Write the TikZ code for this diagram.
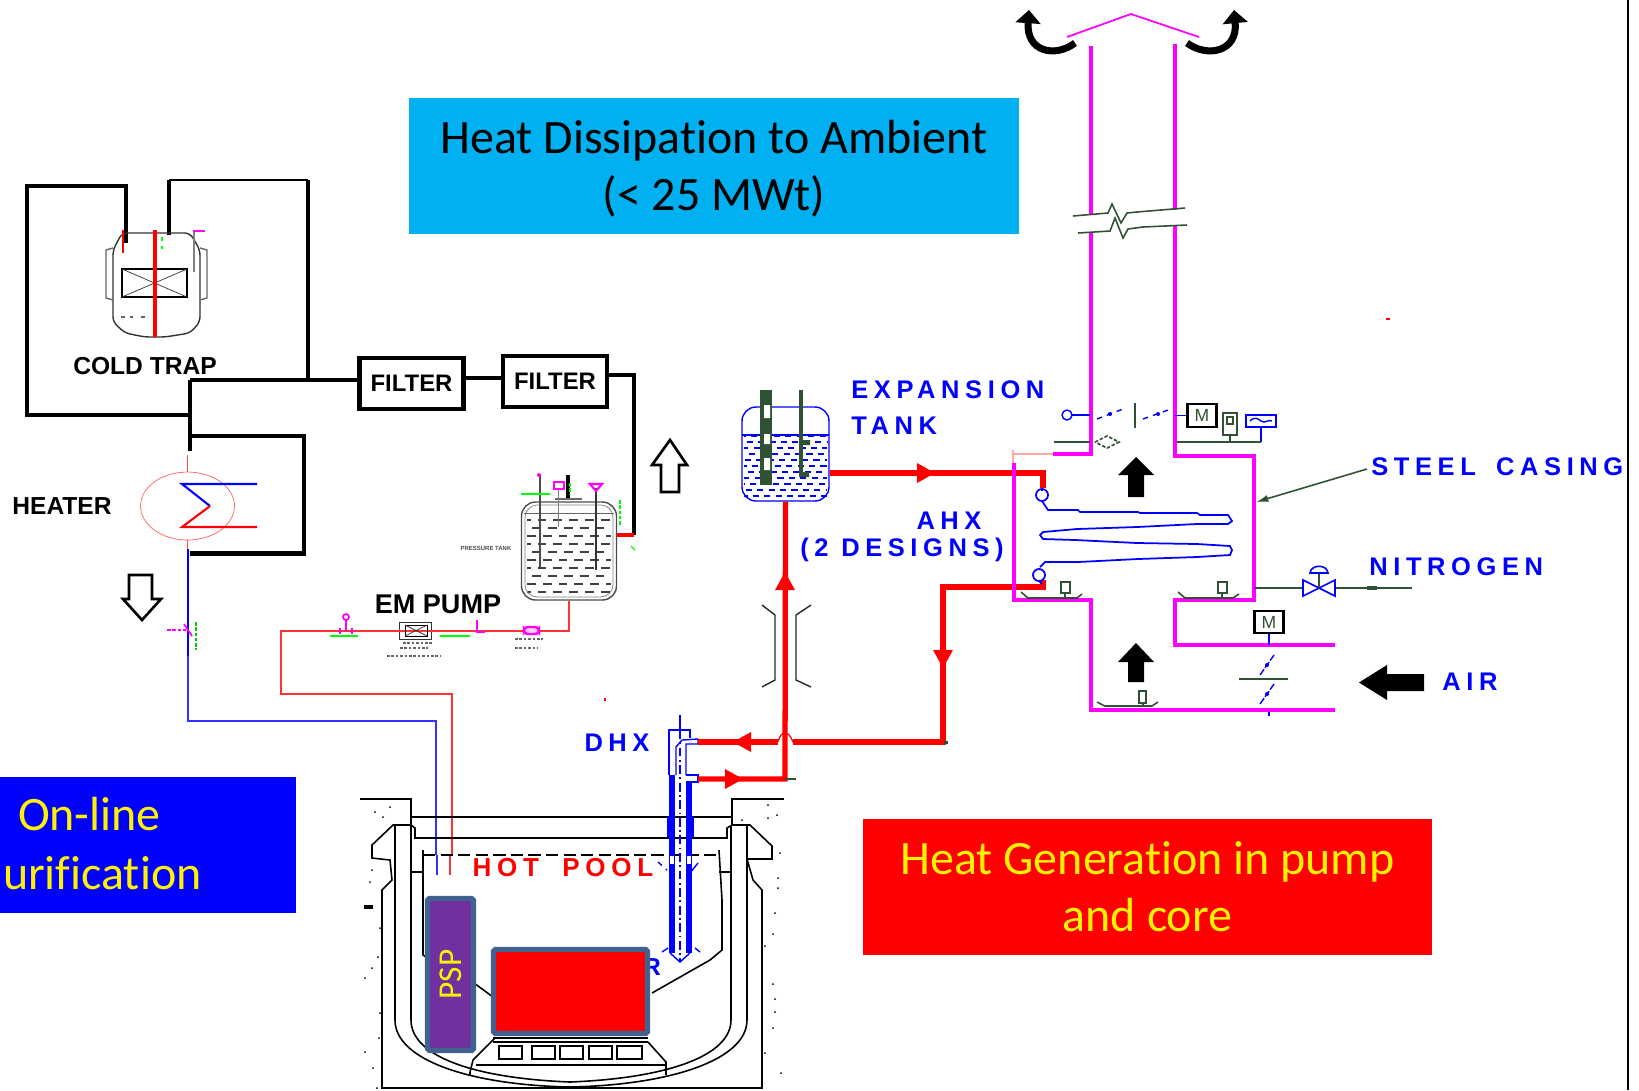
\documentclass[tikz,border=0pt]{standalone}
\usepackage{fontspec}
\setmainfont{Carlito}[Ligatures=NoCommon]
\newfontfamily\labelfont{Liberation Sans}
\newfontfamily\spacedfont[LetterSpace=22]{Liberation Sans}
\usetikzlibrary{shapes,arrows.meta,positioning}
\definecolor{steelblue}{HTML}{41618F}
\definecolor{pspviolet}{HTML}{7030A0}
\definecolor{skyblue}{HTML}{00B0F0}
\definecolor{darkgreen}{HTML}{2F5233}
\definecolor{pinkline}{HTML}{FF00FF}
\definecolor{palered}{HTML}{FF6060}
\newcommand{\redtip}[3]{\fill[red,shift={(#1,#2)},rotate=#3] (0,0) -- (-18,-10) -- (-18,10) -- cycle;}

\begin{document}
\begin{tikzpicture}
	[
		x=0.02cm, y=-0.02cm,
		bigbox/.style={rectangle, minimum height=2.72cm, inner sep=0pt, align=center, font=\fontsize{27.3}{32.3}\selectfont},
		filternode/.style={rectangle, draw=black, fill=white, minimum width=2.08cm, minimum height=1.02cm, inner sep=0pt, font=\labelfont\bfseries\fontsize{13.6}{15}\selectfont},
		blacklabel/.style={text=black, inner sep=0pt, font=\labelfont\bfseries\fontsize{14}{15}\selectfont},
		bluelabel/.style={text=blue, inner sep=0pt, align=center, font=\spacedfont\bfseries\fontsize{14.5}{16}\selectfont},
		mbox/.style={rectangle, draw=black, very thick, fill=white, text=darkgreen, inner sep=0pt, minimum width=0.58cm, minimum height=0.45cm, font=\labelfont\fontsize{10}{10}\selectfont},
		tanknode/.style={rectangle, draw=blue, thick, rounded corners=8pt},
		blackpipe/.style={draw=black, line width=2.3pt},
		redpipe/.style={draw=red, line width=3pt},
		casing/.style={draw=pinkline, line width=2pt},
		thinline/.style={draw=darkgreen, line width=0.9pt},
		bluethin/.style={draw=blue, line width=0.8pt},
		poolline/.style={draw=black, line width=0.9pt},
		curlarrow/.style={draw=black, line width=4pt, -{Triangle[length=7.5pt,width=14pt]}},
	]
	\useasboundingbox (0,0) rectangle (1639,1090);

	% text boxes
	\node[bigbox, fill=skyblue, minimum width=12.2cm] (dissipation) at (714,166) {\rule{0pt}{22.4pt}Heat Dissipation to Ambient\\(< 25 MWt)};
	\node[bigbox, fill=blue, text=yellow, text width=5.92cm, align=left] (purification) at (148,845) {\hspace*{0.36cm}\raisebox{1pt}{On-line}\\\hspace*{0.06cm}urification\rule[-1.8pt]{0pt}{1pt}};
	\node[bigbox, fill=red, text=yellow, minimum width=11.38cm] (generation) at (1147.5,887) {Heat Generation in pump\\and core};
	\draw[black, line width=1.6pt] (1628,0) -- (1628,1090);

	% purification loop
	\node[filternode, line width=2.8pt] (filterone) at (411.5,383.5) {FILTER};
	\node[filternode, line width=1.9pt] (filtertwo) at (555,381.5) {FILTER};
	\node[ellipse, draw=palered, thin, minimum width=1.88cm, minimum height=1.36cm, inner sep=0pt] (heater) at (187.5,506) {};
	\node[tanknode, draw=black!70, minimum width=1.9cm, minimum height=1.96cm] (storetank) at (569,551) {};
	\node[rectangle, draw=black!80, thick, minimum width=0.64cm, minimum height=0.34cm, inner sep=0pt] (empump) at (415.5,631) {};
	\coordinate (junction) at (190,380);
	\coordinate (filterlink) at (480,378);
	\coordinate (trapin) at (126,243);
	\coordinate (trapout) at (169,235);
	\coordinate (tanktap) at (634,535);
	\coordinate (pumpcorner) at (281,631);
	\coordinate (dropcorner) at (452,694);
	\coordinate (bluecorner) at (188,721);
	\coordinate (blueend) at (436,855);
	\coordinate (redend) at (452,855);

	\draw[blackpipe] (trapin) -- (126,186) -- (27,186) -- (27,415) -- (190,415);
	\draw[blackpipe] (trapout) -- (169,180);
	\draw[blackpipe, line width=1.6pt] (169,180) -- (308,180);
	\draw[blackpipe] (308,180) -- (308,378);
	\draw[blackpipe, line width=1.8pt] (junction) -- (filterone.west |- junction);
	\draw[blackpipe] (junction) -- (190,451);
	\draw[blackpipe] (filterone.east |- filterlink) -- (filtertwo.west |- filterlink);
	\draw[blackpipe, line width=1.9pt] (filtertwo.east |- 0,375) -- (634,375) -- (tanktap);
	\draw[red, line width=2pt] (tanktap) -- (storetank.east |- tanktap);
	\draw[blackpipe] (190,436) -- (304,436) -- (304,553.5) -- (190,553.5);
	\draw[red!70, line width=1pt] (heater.north |- 0,455) -- (heater.north);
	\draw[red!70, line width=1pt] (heater.south) -- (heater.south |- 0,549);
	\draw[blue, line width=1.4pt] (188,549) -- (188,656);
	\draw[blue!80, line width=1pt] (188,656) -- (bluecorner) -- (436,721) -- (blueend);
	\draw[blue!80, line width=1pt] (437,855) -- (437,875);
	\draw[red!80, line width=1pt] (storetank.south) |- (pumpcorner) -- (281,694) -- (dropcorner) -- (redend);
	\draw[red!80, line width=1pt] (450,855) -- (450,875);
	\draw[blue, line width=1.2pt] (257,484) -- (182,484) -- (210,506);
	\draw[red, line width=1.2pt] (210,506) -- (182,527) -- (257,527);

	% cold trap
	\draw[black!80, thick, rounded corners=3pt] (113,250) -- (122,233) -- (190,233) -- (200,250) -- (200,322) -- (190,333) -- (165,337) -- (145,337) -- (125,333) -- (113,322) -- cycle;
	\draw[black!60, thick] (113,248) -- (106,250) -- (106,298) -- (113,300);
	\draw[black!60, thick] (200,248) -- (207,250) -- (207,298) -- (200,300);
	\draw[black, thick] (122,269) rectangle (187,297);
	\draw[black!80] (122,269) -- (187,297) (122,297) -- (187,269);
	\draw[red, line width=1.8pt] (155,230) -- (155,337);
	\draw[red, line width=1.4pt] (123,230) -- (123,253);
	\draw[pinkline, line width=1pt] (193,231) -- (205,231);
	\draw[black!50, line width=0.8pt] (194,232) -- (194,272);
	\draw[green, line width=0.8pt, dash pattern=on 2pt off 3pt] (162,237) -- (162,250);
	\draw[black!60, line width=1pt, dash pattern=on 2pt off 3pt] (121,317) -- (133,317) (141,317) -- (148,317);
	\node[blacklabel] (coldtraplabel) at (145,366) {COLD TRAP};
	\node[blacklabel] (heaterlabel) at (62,506) {HEATER};
	\node[blacklabel, font=\labelfont\bfseries\fontsize{15.4}{16}\selectfont] (empumplabel) at (438,604) {EM PUMP};
	\draw[black, line width=1.5pt] (661,492) -- (661,465) -- (652,465) -- (670,440) -- (687,465) -- (679,465) -- (679,492) -- cycle;
	\draw[black, line width=1.5pt] (129,575) -- (129,599) -- (123,599) -- (142,620) -- (161,599) -- (152,599) -- (152,575) -- cycle;

	% storage tank
	\foreach \y [count=\i] in {520,528,...,598}
		\draw[black!75, line width=0.9pt, dash pattern=on 5pt off 4pt, dash phase=3*\i pt] (527,\y) -- (611,\y);
	\draw[black!50, thin, rounded corners=7pt] (525,505) rectangle (613,597);
	\draw[black!60] (524,513) -- (614,513);
	\draw[black!60, thick] (555,499) -- (582,499);
	\draw[black!70, line width=1.2pt] (540,475) -- (540,567);
	\draw[black, line width=2pt] (568,475) -- (568,498);
	\draw[black!50] (558,488) -- (558,527);
	\draw[black!80, line width=1.2pt] (596,488) -- (596,570);
	\fill[pinkline] (539,475) circle (2);
	\draw[pinkline, line width=1.2pt] (554,482) rectangle (564,489);
	\draw[pinkline, line width=1.2pt] (590,484) -- (602,484) -- (596,491) -- cycle;
	\draw[green, line width=0.9pt] (521,494) -- (550,494);
	\draw[green, line width=0.9pt, dash pattern=on 2pt off 1pt] (570,483) -- (570,495) (620,500) -- (620,525);
	\draw[green, line width=0.7pt] (631,546) -- (635,550);
	\node[text=black!70, inner sep=0pt, font=\labelfont\bfseries\fontsize{3.4}{4}\selectfont] (tanklabel) at (486,548) {PRESSURE TANK};

	% pump line
	\draw[black] (405,625) rectangle (427,636);
	\draw[black!80] (405,625) -- (427,636) (405,636) -- (427,625);
	\draw[pinkline, line width=1pt] (340,628) -- (340,634) (352,628) -- (352,634) (346,631) -- (346,620);
	\draw[pinkline, line width=1pt] (346,617) circle (3);
	\draw[pinkline, line width=1pt] (477,620) -- (477,632) -- (485,632);
	\draw[pinkline, line width=1.4pt, rounded corners=2pt, fill=pinkline!20] (524,627) rectangle (539,634);
	\draw[green, line width=0.8pt] (330,636) -- (358,636) (440,636) -- (470,636);
	\draw[pinkline, line width=1pt, dash pattern=on 2pt off 1pt] (167,630) -- (186,630);
	\draw[green!80!black, line width=1pt, dash pattern=on 2pt off 1pt] (196,622) -- (196,650);
	\draw[pinkline, line width=1pt] (184,624) -- (192,636);
	\draw[black!60, line width=0.8pt, dash pattern=on 1.5pt off 1pt] (403,643) -- (433,643) (400,648) -- (428,648) (387,656) -- (440,656) (515,639) -- (543,639) (515,648) -- (537,648);

	% specks
	\fill[red] (1386,318) rectangle (1390,320);
	\fill[red] (604,698) rectangle (606,701);

	% pool
	\draw[poolline] (360,799) -- (411,799) -- (411,872);
	\draw[poolline] (784,799) -- (732,799) -- (732,825);
	\draw[poolline] (411,817) -- (732,817);
	\draw[poolline] (411,825) -- (415,828) -- (415,838) -- (727,838) -- (727,828) -- (732,825);
	\draw[poolline] (411,825) -- (393,825) -- (372,845) -- (372,858) -- (390,860) -- (392,880) -- (382,890) -- (382,1088) -- (762,1088) -- (762,890) -- (753,880) -- (747,859) -- (772,859) -- (772,846) -- (750,825) -- (732,825);
	\draw[poolline] (395,825) -- (395,1020) .. controls (395,1060) and (470,1085) .. (570,1087) .. controls (670,1085) and (747,1060) .. (747,1020) -- (747,825);
	\draw[poolline] (411,872) -- (411,1020) .. controls (411,1055) and (470,1078) .. (570,1082) .. controls (670,1078) and (731,1055) .. (731,1020) -- (731,825);
	\draw[poolline, dashed, dash pattern=on 7pt off 3pt] (423,855) -- (719,855);
	\draw[poolline] (423,850) -- (423,955) -- (430,960);
	\draw[poolline] (719,850) -- (722,900) -- (722,950) -- (710,960) -- (652,993);
	\draw[poolline] (411,872) -- (423,872) (719,872) -- (731,872);
	\draw[poolline] (474,983) -- (493,997);
	\draw[poolline] (493,1038) -- (648,1038) (493,1042) -- (648,1042);
	\foreach \x/\w in {499/23,532/23,560/23,589/23,617/25}
		\draw[poolline, line width=1.2pt] (\x,1046) rectangle ({\x+\w},1059);
	\draw[poolline] (495,1038) -- (473,1060) -- (470,1072) -- (470,1075);
	\draw[poolline] (648,1042) -- (666,1062) -- (666,1075);
	\draw[poolline] (476,1065) -- (665,1065);
	\foreach \x/\y in {375/812,383/817,390/807,372/870,370/882,380/928,378/957,372/968,365/978,380/1013,379/1038,365/1052,373/1068,377/1088,768/805,742/820,768/818,777/815,780/853,778/878,778/888,775/913,773/934,765/946,773/984,775/999,775/1012,773/1028,765/1053,781/1073}
		\fill[black] (\x,\y) circle (1);
	\fill[black] (364,905) rectangle (373,909);

	\node[text=blue, inner sep=0pt, font=\labelfont\bfseries\fontsize{14}{16}\selectfont] (reactorlabel) at (652,967) {R};
	\node[rectangle, fill=red, draw=steelblue, line width=3pt, rounded corners=1pt, minimum width=3.08cm, minimum height=1.68cm, inner sep=0pt] (core) at (570.5,991.5) {};
	\node[rectangle, rotate=90, fill=pspviolet, draw=steelblue, line width=3pt, rounded corners=1pt, text=yellow, minimum width=3.04cm, minimum height=0.92cm, inner sep=0pt, font=\fontsize{19}{20}\selectfont] (psp) at (450.5,974.5) {PSP};
	\node[text=red, inner sep=0pt, font=\spacedfont\bfseries\fontsize{14.8}{16}\selectfont] (hotpool) at (563,868) {HOT\hspace{0.4em} POOL};

	% decay heat exchanger
	\fill[blue] (669,775) rectangle (675,953);
	\fill[blue] (686,782) rectangle (692,953);
	\fill[blue] (667,817) rectangle (670,837);
	\fill[blue] (692,817) rectangle (694,837);
	\fill[white] (670,856) rectangle (674,864);
	\fill[white] (687,856) rectangle (691,864);
	\draw[bluethin] (669,775) -- (669,730) -- (690,730) -- (690,738);
	\draw[bluethin] (676,775) -- (676,747) -- (682,740) -- (698,739) -- (698,744) -- (686,744) -- (686,775);
	\draw[bluethin] (686,775) -- (698,775) -- (698,782) -- (686,782);
	\draw[bluethin] (680,715) -- (680,730);
	\draw[blue, line width=0.8pt, dash pattern=on 5pt off 2pt on 1pt off 2pt] (680,730) -- (680,962);
	\draw[bluethin] (670,953) -- (680,962) -- (690,953);
	\draw[bluethin] (662,952) -- (668,948) (700,952) -- (695,948);
	\draw[bluethin, dashed] (658,862) -- (667,870);
	\draw[bluethin] (698,863) -- (690,873);
	\node[bluelabel] (dhxlabel) at (617,743) {DHX};

	% main sodium circuit
	\node[tanknode, minimum width=1.74cm, minimum height=1.88cm] (exptank) at (785.5,454) {};
	\foreach \y [count=\i] in {436,442,...,496}
		\draw[blue, line width=0.7pt, dash pattern=on 3.5pt off 3pt, dash phase=2.5*\i pt] (744,\y) -- (827,\y);
	\draw[blue, thick] (742,435) -- (829,435);
	\fill[darkgreen] (760,390) rectangle (772,485);
	\fill[darkgreen] (799,390) rectangle (803,477);
	\fill[darkgreen] (803,440) rectangle (810,445) (803,472) rectangle (809,477);
	\fill[white] (764,405) rectangle (770,418) (764,434) rectangle (770,444) (764,458) rectangle (770,470);
	\coordinate (riserbottom) at (785,779);
	\coordinate (ahxin) at (1043,488);
	\coordinate (ahxout) at (1043,580);
	\coordinate (coldcorner) at (943,742);
	\draw[redpipe] (exptank.south) -- (riserbottom) -- (698,779);
	\draw[redpipe] (exptank.east |- 0,473) -- (1043,473) -- (ahxin);
	\draw[redpipe] (ahxout) -- (1043,587) -- (943,587) -- (coldcorner) -- (793,742);
	\draw[redpipe] (778,742) -- (698,742);
	\draw[red, line width=0.7pt] (778,742) .. controls (780,735) and (782,733) .. (785,733) .. controls (788,733) and (790,735) .. (793,742);
	\draw[darkgreen, line width=1.5pt] (785,779) -- (796,779);
	\fill[darkgreen] (944,741) rectangle (948,744);
	\redtip{733}{742}{180}
	\redtip{743}{779}{0}
	\redtip{785}{572}{90}
	\redtip{943}{668}{-90}
	\redtip{935}{473}{0}
	\draw[black!85, line width=0.8pt] (762,605) -- (775,615) -- (775,680) -- (762,687);
	\draw[black!85, line width=0.8pt] (811,605) -- (796,615) -- (796,680) -- (811,687);
	\node[bluelabel, anchor=west, align=left] (exptanklabel) at (851,390) {EXPANSION};
	\node[bluelabel, anchor=west, align=left] (tanktext) at (851,426) {TANK};
	\node[bluelabel] (ahxlabel) at (949,521) {AHX};
	\node[bluelabel] (designlabel) at (902,550) {(2 DESIGNS)};
	\node[bluelabel, anchor=west] (casinglabel) at (1371,467) {STEEL \hspace{0.3em}CASING};
	\node[bluelabel, anchor=west] (nitrogenlabel) at (1369,567) {NITROGEN};
	\node[bluelabel, anchor=west] (airlabel) at (1442,682) {AIR};

	% air heat exchanger casing
	\draw[casing] (1091,46) -- (1091,215);
	\draw[casing] (1091,233) -- (1091,454) -- (1053,454);
	\draw[red!35, line width=0.9pt] (1053,454) -- (1013,454) (1013,450) -- (1013,463);
	\draw[casing] (1014,463) -- (1014,600) -- (1091,600) -- (1091,710) -- (1335,710);
	\draw[casing] (1175,44) -- (1175,210);
	\draw[casing] (1175,225) -- (1175,456) -- (1254,456) -- (1254,600) -- (1175,600) -- (1175,645) -- (1335,645);
	\draw[pinkline, line width=1pt] (1067,37) -- (1131,14) -- (1199,37);
	\draw[curlarrow] (1075,43) .. controls (1055,58) and (1026,52) .. (1029,10);
	\draw[curlarrow] (1187,43) .. controls (1207,58) and (1238,52) .. (1234,10);
	\draw[thinline] (1073,216) -- (1108,213) -- (1112,204) -- (1121,223) -- (1127,213) -- (1137,212) -- (1185,208);
	\draw[thinline] (1078,233) -- (1110,231) -- (1115,218) -- (1123,238) -- (1128,229) -- (1143,227) -- (1187,225);

	% stack instruments
	\node[mbox] (stackmotor) at (1202,415.5) {M};
	\node[mbox] (airmotor) at (1269,622) {M};
	\draw[bluethin] (stackmotor.west) -- (1175,415.5);
	\draw[bluethin] (airmotor.south) -- (1269,645);
	\draw[bluethin] (1067,415) circle (5);
	\draw[bluethin] (1072,415) -- (1090,415);
	\draw[bluethin, dashed] (1097,419) -- (1123,409) (1143,419) -- (1171,409);
	\fill[blue] (1110,414) circle (2) (1158,414) circle (2);
	\draw[thinline] (1135,403) -- (1135,428);
	\draw[darkgreen, line width=1.3pt] (1223,413) rectangle (1237,435);
	\draw[darkgreen, line width=1pt] (1227,417) rectangle (1233,424);
	\node[rectangle, draw=blue, thick, minimum width=0.6cm, minimum height=0.24cm, inner sep=0pt] (recorder) at (1261,421) {};
	\draw[bluethin] (1250,421) .. controls (1255,416) and (1258,419) .. (1261,421) .. controls (1265,424) and (1268,419) .. (1272,421);
	\draw[bluethin] (recorder.south) -- (1261,442);
	\draw[thinline] (1177,442) -- (1261,442);
	\draw[thinline] (1230,435) -- (1230,442);
	\draw[thinline] (1054,442) -- (1090,442);
	\draw[thinline, dashed, dash pattern=on 2pt off 1pt] (1095,442) -- (1107,436) -- (1119,442) -- (1107,448) -- cycle;
	\fill[black] (1128,497) rectangle (1144,475) (1118,475) -- (1136,457) -- (1154,475) -- cycle;
	\fill[black] (1128,682) rectangle (1144,662) (1118,662) -- (1136,643) -- (1154,662) -- cycle;
	\fill[black] (1424,674) rectangle (1387,691) (1387,665) -- (1359,682.5) -- (1387,700) -- cycle;

	% coil
	\draw[bluethin, line width=1pt] (1042,488) -- (1042,491);
	\draw[bluethin, line width=1pt] (1042,495) circle (6);
	\draw[bluethin, line width=1pt] (1042,501) -- (1048,510) -- (1078,510) -- (1080,512) -- (1138,512) -- (1140,513) -- (1197,513) -- (1200,515) -- (1228,515) -- (1232,521) -- (1228,524) -- (1197,524) -- (1137,527) -- (1077,529) -- (1043,532) -- (1040,535) -- (1043,539) -- (1075,540) -- (1137,543) -- (1197,544) -- (1230,546) -- (1232,550) -- (1230,555) -- (1197,557) -- (1138,559) -- (1078,562) -- (1045,562) -- (1040,567);
	\draw[bluethin, line width=1pt] (1039,575) circle (6);
	\draw[bluethin, line width=1pt] (1039,581) -- (1042,584);

	% sensors
	\draw[thinline] (1021,592) -- (1028,598) -- (1077,598) -- (1082,594);
	\draw[thinline] (1178,592) -- (1185,598) -- (1233,598) -- (1239,594);
	\draw[thinline] (1097,702) -- (1105,706) -- (1152,706) -- (1158,702);
	\draw[thinline, line width=1.2pt] (1061,582) rectangle (1070,593);
	\draw[thinline, line width=1.2pt] (1218,582) rectangle (1227,593);
	\draw[thinline, line width=1.2pt] (1139,691) rectangle (1146,703);
	\draw[thinline] (1065,593) -- (1065,598) (1222,593) -- (1222,598) (1143,703) -- (1143,706);

	% steel casing and nitrogen
	\coordinate (casingpoint) at (1256,502);
	\coordinate (casingtail) at (1367,469);
	\draw[thinline, -{Latex[length=7pt,width=4pt]}] (casingtail) -- (casingpoint);
	\draw[thinline] (1255,588) -- (1303,588) (1335,588) -- (1412,588);
	\draw[blue, line width=0.9pt] (1303,580) -- (1319,588) -- (1303,596) -- cycle;
	\draw[blue, line width=0.9pt] (1335,580) -- (1319,588) -- (1335,596) -- cycle;
	\draw[thinline] (1319,588) -- (1319,573);
	\draw[blue, line width=0.9pt] (1310,573) .. controls (1311,564) and (1327,564) .. (1328,573) -- cycle;
	\fill[darkgreen] (1367,586) rectangle (1377,590);

	% air damper
	\draw[thinline] (1239,679) -- (1288,679);
	\draw[bluethin, dash pattern=on 4pt off 1pt] (1260,675) -- (1274,655) (1260,704) -- (1274,684);
	\fill[blue] (1267,665) circle (2) (1267,694) circle (2);
	\draw[bluethin] (1269,712) -- (1269,716);
\end{tikzpicture}
\end{document}
